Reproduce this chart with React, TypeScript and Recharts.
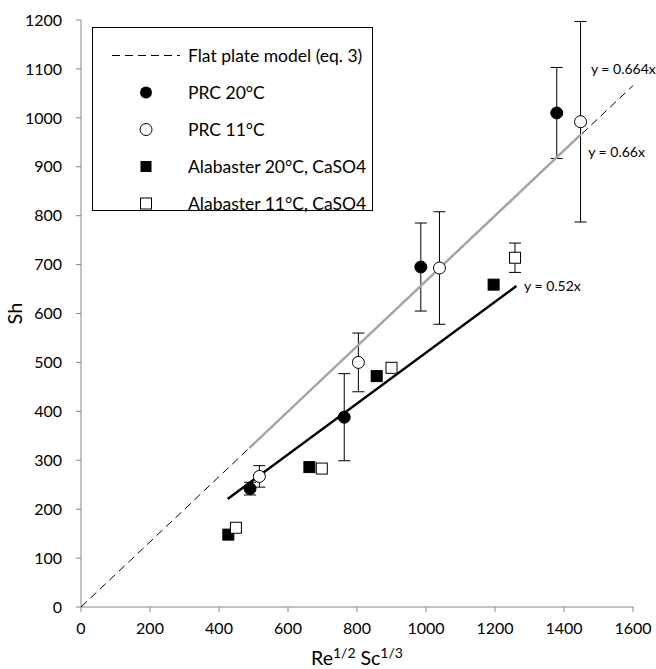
import { ScatterChart, Scatter, XAxis, YAxis, ErrorBar, ReferenceDot, Legend, Label } from "recharts";

// PRC 20°C (filled circles)
const prc20X = [490, 763, 985, 1379];
const prc20Y = [242, 388, 695, 1010];
const prc20Err = [13, 89, 90, 93];

// PRC 11°C (open circles)
const prc11X = [517, 804, 1039, 1448];
const prc11Y = [267, 500, 693, 992];
const prc11Err = [22, 60, 115, 205];

// Alabaster 20°C, CaSO4 (filled squares)
const ala20X = [427, 662, 857, 1196];
const ala20Y = [148, 286, 472, 659];

// Alabaster 11°C, CaSO4 (open squares)
const ala11X = [449, 698, 900, 1258];
const ala11Y = [162, 283, 489, 714];
const ala11Err = [0, 0, 0, 30];

// lines (end points)
const flatX = [0, 1600];
const flatY = [0, 1066];
const fit66X = [488, 1449];
const fit66Y = [325, 966];
const fit52X = [425, 1262];
const fit52Y = [221, 656];

// trendline labels
const annX = [1478, 1470, 1284];
const annY = [1100, 930, 656];
const annText = ["y = 0.664x", "y = 0.66x", "y = 0.52x"];

const xTicks = [0, 200, 400, 600, 800, 1000, 1200, 1400, 1600];
const yTicks = [0, 100, 200, 300, 400, 500, 600, 700, 800, 900, 1000, 1100, 1200];

const legendNames = ["Flat plate model (eq. 3)", "PRC 20°C", "PRC 11°C", "Alabaster 20°C, CaSO4", "Alabaster 11°C, CaSO4"];

const FONT = "Lato, 'Liberation Sans', sans-serif";

const pts = (xs: number[], ys: number[], errs?: number[]) =>
  xs.map((x, i) => ({ x, y: ys[i], err: errs ? errs[i] : 0 }));

const FilledCircle = (p: any) => <circle cx={p.cx} cy={p.cy} r={6} fill="#000" stroke="#000" />;
const OpenCircle = (p: any) => <circle cx={p.cx} cy={p.cy} r={6} fill="#fff" stroke="#000" strokeWidth={1} />;
const FilledSquare = (p: any) => <rect x={p.cx - 5.5} y={p.cy - 5.5} width={11} height={11} fill="#000" stroke="#000" />;
const OpenSquare = (p: any) => <rect x={p.cx - 5.5} y={p.cy - 5.5} width={11} height={11} fill="#fff" stroke="#000" />;
const NoShape = () => <g />;

const XTitle = ({ viewBox }: any) => (
  <text x={viewBox.x + viewBox.width / 2} y={viewBox.y + 58} textAnchor="middle" fontSize={19.5} fontFamily={FONT} fill="#000">
    Re<tspan dy={-7} fontSize={14}>1/2</tspan>
    <tspan dy={7} fontSize={19.5}> Sc</tspan>
    <tspan dy={-7} fontSize={14}>1/3</tspan>
  </text>
);

const YTitle = ({ viewBox }: any) => {
  const cx = viewBox.x + 14;
  const cy = viewBox.y + viewBox.height / 2;
  return (
    <text x={cx} y={cy} transform={`rotate(-90, ${cx}, ${cy})`} textAnchor="middle" dominantBaseline="central" fontSize={20} fontFamily={FONT} fill="#000">
      Sh
    </text>
  );
};

const markerFor = (i: number) => {
  if (i === 0) return <line x1={0} y1={8.5} x2={68} y2={8.5} stroke="#000" strokeDasharray="8 5" />;
  if (i === 1) return <circle cx={34} cy={8.5} r={6} fill="#000" />;
  if (i === 2) return <circle cx={34} cy={8.5} r={6} fill="#fff" stroke="#000" />;
  if (i === 3) return <rect x={28.5} y={3} width={11} height={11} fill="#000" />;
  return <rect x={28.5} y={3} width={11} height={11} fill="#fff" stroke="#000" />;
};

const LegendBox = () => (
  <div style={{ border: "1px solid #000", background: "#fff", boxSizing: "border-box", width: 281, height: 184, padding: "9px 0 0 19px", fontFamily: FONT, fontSize: 17.5 }}>
    {legendNames.map((n, i) => (
      <div key={n} style={{ display: "flex", alignItems: "center", height: 37 }}>
        <svg width={68} height={17} style={{ marginRight: 8 }}>{markerFor(i)}</svg>
        <span>{n}</span>
      </div>
    ))}
  </div>
);

export default function App() {
  return (
    <div style={{ position: "absolute", left: 0, top: 0, background: "#fff" }}>
      <ScatterChart width={656} height={669} margin={{ top: 20, right: 23, left: 0, bottom: 0 }}>
        <XAxis
          type="number"
          dataKey="x"
          domain={[0, 1600]}
          ticks={xTicks}
          height={62}
          stroke="#868686"
          tickSize={5}
          tickMargin={11}
          tick={{ fill: "#000", fontSize: 16, fontFamily: FONT }}
          allowDataOverflow
        >
          <Label content={XTitle} />
        </XAxis>
        <YAxis
          type="number"
          dataKey="y"
          domain={[0, 1200]}
          ticks={yTicks}
          width={81}
          stroke="#868686"
          tickSize={5}
          tickMargin={14}
          tick={{ fill: "#000", fontSize: 16, fontFamily: FONT }}
          allowDataOverflow
        >
          <Label content={YTitle} />
        </YAxis>
        <Legend
          layout="horizontal"
          verticalAlign="middle"
          align="center"
          content={LegendBox}
          wrapperStyle={{ left: 92, top: 27, width: 281, height: 184 }}
        />
        <Scatter data={pts(flatX, flatY)} line={{ stroke: "#000", strokeWidth: 1, strokeDasharray: "8 5" }} shape={NoShape} legendType="none" isAnimationActive={false} />
        <Scatter data={pts(fit66X, fit66Y)} line={{ stroke: "#a5a5a5", strokeWidth: 2.5 }} shape={NoShape} legendType="none" isAnimationActive={false} />
        <Scatter data={pts(fit52X, fit52Y)} line={{ stroke: "#000", strokeWidth: 2.5 }} shape={NoShape} legendType="none" isAnimationActive={false} />
        <Scatter name="PRC 20°C" data={pts(prc20X, prc20Y, prc20Err)} shape={FilledCircle} isAnimationActive={false}>
          <ErrorBar dataKey="err" direction="y" width={6} stroke="#000" strokeWidth={1} />
        </Scatter>
        <Scatter name="PRC 11°C" data={pts(prc11X, prc11Y, prc11Err)} shape={OpenCircle} isAnimationActive={false}>
          <ErrorBar dataKey="err" direction="y" width={6} stroke="#000" strokeWidth={1} />
        </Scatter>
        <Scatter name="Alabaster 20°C, CaSO4" data={pts(ala20X, ala20Y)} shape={FilledSquare} isAnimationActive={false} />
        <Scatter name="Alabaster 11°C, CaSO4" data={pts(ala11X, ala11Y, ala11Err)} shape={OpenSquare} isAnimationActive={false}>
          <ErrorBar dataKey="err" direction="y" width={6} stroke="#000" strokeWidth={1} />
        </Scatter>
        {annText.map((t, i) => (
          <ReferenceDot
            key={t}
            x={annX[i]}
            y={annY[i]}
            r={0}
            stroke="none"
            fill="none"
            label={{ value: t, position: "right", offset: 0, fontSize: 14, fontFamily: FONT, fill: "#000" }}
          />
        ))}
      </ScatterChart>
    </div>
  );
}
